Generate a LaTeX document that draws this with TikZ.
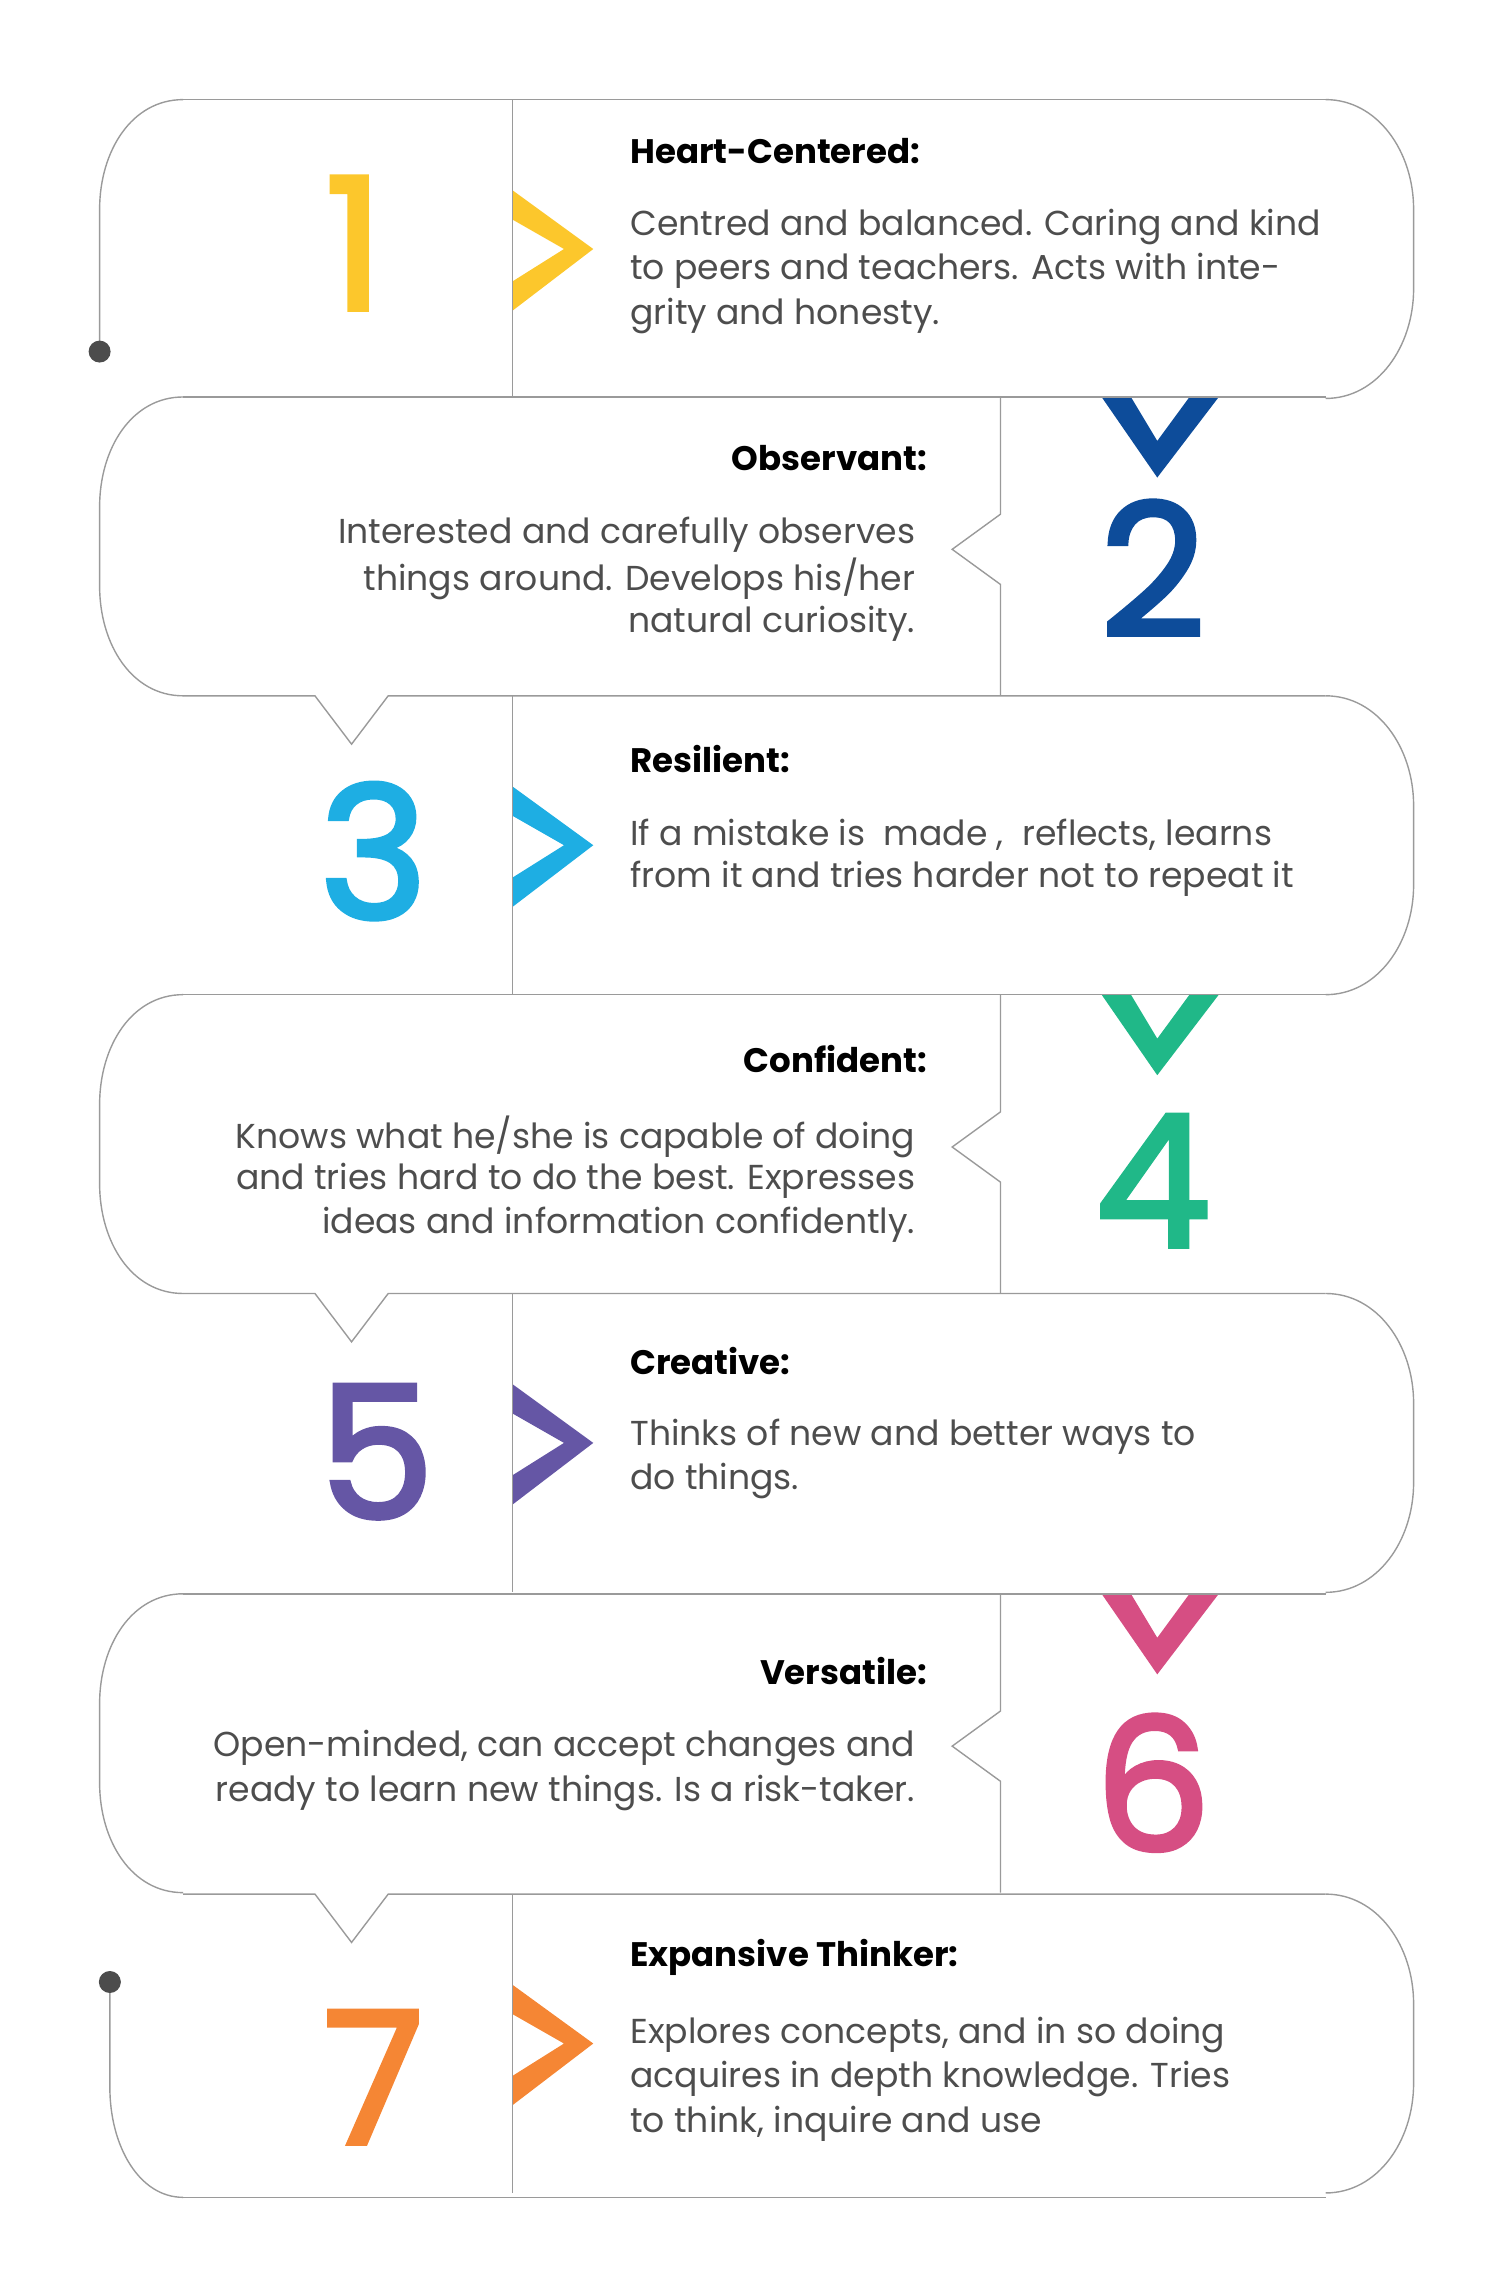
\documentclass[tikz,border=0pt]{standalone}
\usepackage{fontspec}
\setmainfont{Poppins}
\newfontfamily\numfont[FakeBold=2.5]{Poppins}
\definecolor{cyel}{HTML}{FCC72C}
\definecolor{cblu}{HTML}{0D4C9A}
\definecolor{ccya}{HTML}{1EAEE3}
\definecolor{cgrn}{HTML}{20B888}
\definecolor{cpur}{HTML}{6556A5}
\definecolor{cpnk}{HTML}{D64E83}
\definecolor{cora}{HTML}{F58634}
\definecolor{cline}{HTML}{9A9A9A}
\definecolor{ctxt}{HTML}{4D4D4D}
\begin{document}
\begin{tikzpicture}[x=0.7324pt,y=-0.7324pt,
  outl/.style={draw=cline,line width=0.7pt},
  body/.style={text=ctxt,font=\fontsize{17.3}{20}\selectfont,inner sep=0pt},
  head/.style={text=black,font=\fontsize{17}{20}\selectfont\bfseries,inner sep=0pt},
  num/.style={font=\fontsize{92}{100}\numfont,inner sep=0pt}]
\useasboundingbox (0,0) rectangle (1024,1566);
% chevrons right (odd rows)
\foreach \T/\c in {68/cyel,475/ccya,883/cpur,1293/cora}{
  \fill[\c] (350,\T+62) -- (405,\T+102) -- (350,\T+144) -- (350,\T+124) -- (385,\T+102) -- (350,\T+82) -- cycle;}
% V chevrons (even rows)
\foreach \T/\c in {271/cblu,679/cgrn,1088/cpnk}{
  \fill[\c] (752,\T) -- (790,\T+55) -- (832,\T) -- (812,\T) -- (790,\T+30) -- (772,\T) -- cycle;}
% horizontal lines
\draw[outl] (125,68) -- (905,68);
\foreach \Y in {271,679,1088}{\draw[outl] (125,\Y) -- (905,\Y);}
\foreach \Y in {475,883,1293}{\draw[outl] (125,\Y) -- (215,\Y) -- (240,\Y+33) -- (265,\Y) -- (905,\Y);}
\draw[outl] (125,1500) -- (905,1500);
% right corners of odd rows
\foreach \T in {68,475,883,1293}{
  \draw[outl] (905,\T) .. controls (940,\T) and (965,\T+35) .. (965,\T+75) -- (965,\T+129) .. controls (965,\T+169) and (940,\T+204) .. (905,\T+204);}
% left corners of even rows
\foreach \T in {271,679,1088}{
  \draw[outl] (125,\T) .. controls (90,\T) and (68,\T+35) .. (68,\T+75) -- (68,\T+129) .. controls (68,\T+169) and (90,\T+204) .. (125,\T+204);}
% first and last left sides
\coordinate (d1) at (68,240);
\coordinate (d7) at (75,1353);
\draw[outl] (125,68) .. controls (90,68) and (68,103) .. (68,143) -- (d1);
\draw[outl] (d7) -- (75,1425) .. controls (75,1465) and (95,1500) .. (125,1500);
\fill[black!70] (d1) circle (7.5);
\fill[black!70] (d7) circle (7.5);
% dividers
\foreach \T in {68,475,883,1293}{\draw[outl] (350,\T) -- (350,\T+204);}
\foreach \T in {271,679,1088}{\draw[outl] (683,\T) -- (683,\T+80) -- (650,\T+104) -- (683,\T+128) -- (683,\T+204);}
% numbers
\node[num,text=cyel] (n1) at (242,166) {1};
\node[num,text=cblu] (n2) at (787,388) {2};
\node[num,text=ccya] (n3) at (255,581) {3};
\node[num,text=cgrn] (n4) at (787,806) {4};
\node[num,text=cpur] (n5) at (257,991) {5};
\node[num,text=cpnk] (n6) at (787,1217) {6};
\node[num,text=cora] (n7) at (255,1418) {7};
% texts row 1
\node[head,anchor=west] (h1) at (430,103) {Heart-Centered:};
\node[body,anchor=west] (t1a) at (430,155) {Centred and balanced. Caring and kind};
\node[body,anchor=west] (t1b) at (430,185) {to peers and teachers. Acts with inte-};
\node[body,anchor=west] (t1c) at (430,216) {grity and honesty.};
% row 2
\node[head,anchor=east] (h2) at (633,313) {Observant:};
\node[body,anchor=east] (t2a) at (625,365) {Interested and carefully observes};
\node[body,anchor=east] (t2b) at (625,395) {things around. Develops his/her};
\node[body,anchor=east] (t2c) at (625,426) {natural curiosity.};
% row 3
\node[head,anchor=west] (h3) at (430,518) {Resilient:};
\node[body,anchor=west] (t3a) at (430,570) {If a mistake is\ \ made ,\ \ reflects, learns};
\node[body,anchor=west] (t3b) at (430,600) {from it and tries harder not to repeat it};
% row 4
\node[head,anchor=east] (h4) at (633,723) {Confident:};
\node[body,anchor=east] (t4a) at (625,776) {Knows what he/she is capable of doing};
\node[body,anchor=east] (t4b) at (625,806) {and tries hard to do the best. Expresses};
\node[body,anchor=east] (t4c) at (625,836) {ideas and information confidently.};
% row 5
\node[head,anchor=west] (h5) at (430,929) {Creative:};
\node[body,anchor=west] (t5a) at (430,981) {Thinks of new and better ways to};
\node[body,anchor=west] (t5b) at (430,1011) {do things.};
% row 6
\node[head,anchor=east] (h6) at (633,1141) {Versatile:};
\node[body,anchor=east] (t6a) at (625,1193) {Open-minded, can accept changes and};
\node[body,anchor=east] (t6b) at (625,1224) {ready to learn new things. Is a risk-taker.};
% row 7
\node[head,anchor=west] (h7) at (430,1336) {Expansive Thinker:};
\node[body,anchor=west] (t7a) at (430,1389) {Explores concepts, and in so doing};
\node[body,anchor=west] (t7b) at (430,1419) {acquires in depth knowledge. Tries};
\node[body,anchor=west] (t7c) at (430,1450) {to think, inquire and use};
\end{tikzpicture}
\end{document}
